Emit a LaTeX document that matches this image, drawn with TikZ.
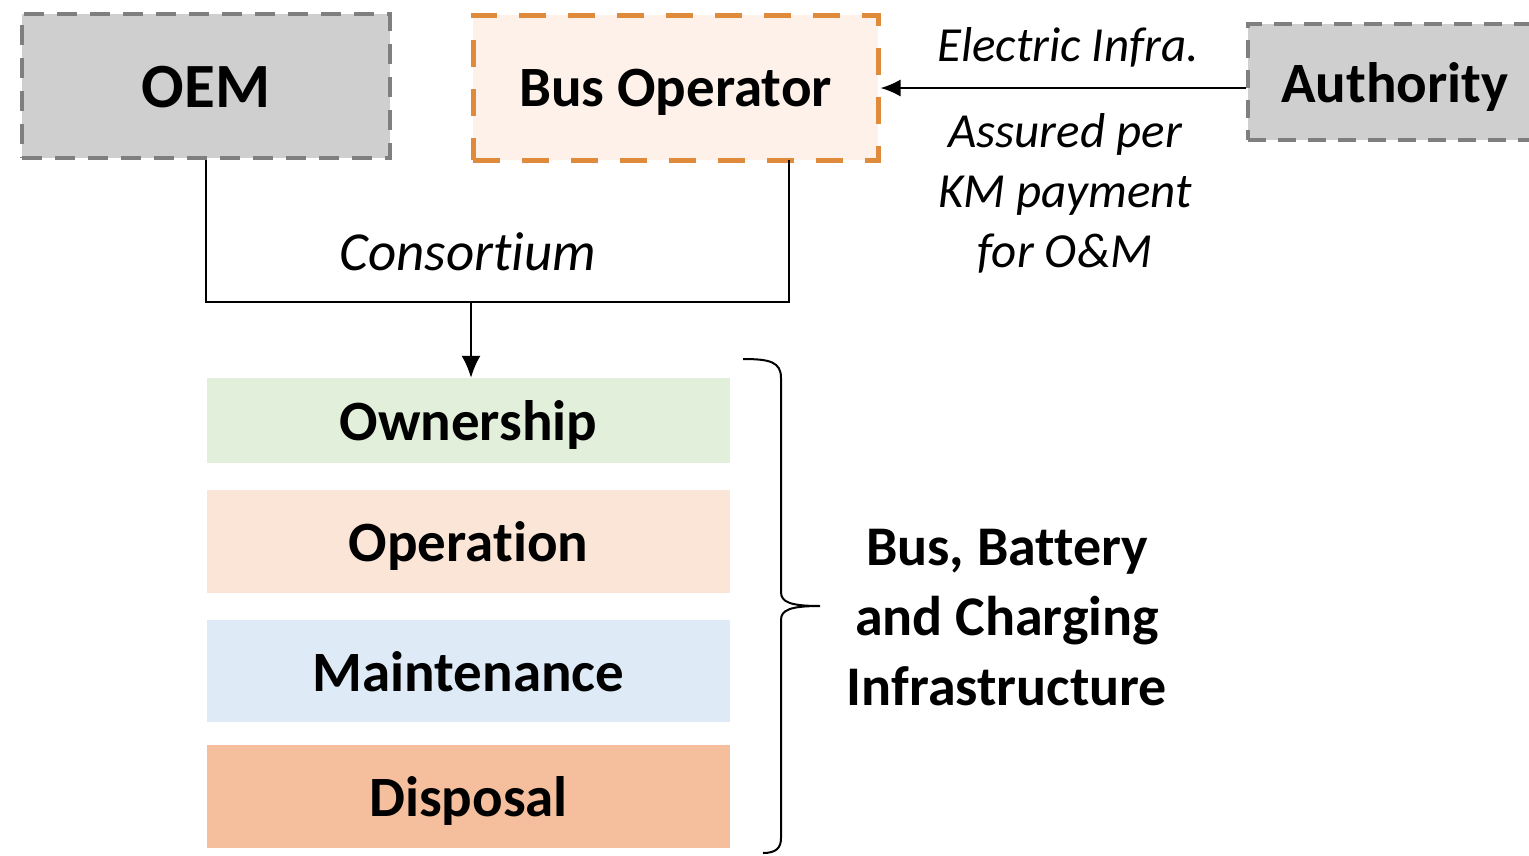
\documentclass[tikz,border=0pt]{standalone}
\usepackage{fontspec}
\setmainfont{Carlito}[Ligatures={NoCommon,NoDiscretionary}]
\usetikzlibrary{arrows.meta,calc}
\definecolor{boxgray}{HTML}{D0CFD0}
\definecolor{dashgray}{HTML}{7F7F7F}
\definecolor{busfill}{HTML}{FDF1E9}
\definecolor{busline}{HTML}{E08A3C}
\definecolor{ownfill}{HTML}{E2EFDA}
\definecolor{opfill}{HTML}{FBE5D6}
\definecolor{mainfill}{HTML}{DEEBF7}
\definecolor{dispfill}{HTML}{F5BE9C}
\tikzset{
  actor/.style={draw=dashgray, fill=boxgray, line width=4pt, dash pattern=on 20pt off 13pt, inner sep=0pt, text depth=0pt, font=\bfseries},
  stage/.style={fill=#1, draw=none, minimum width=523pt, inner sep=0pt, text depth=0pt, font=\fontsize{57}{62}\selectfont\bfseries},
  lab/.style={font=\fontsize{49}{60}\selectfont\itshape, align=center, inner sep=0pt},
  conn/.style={line width=2pt, black},
}
\begin{document}
\begin{tikzpicture}[x=1pt,y=-1pt]
\useasboundingbox (0,0) rectangle (1529,855);
\fill[white] (0,0) rectangle (1529,855);
% actors
\node[actor, minimum width=368pt, minimum height=144pt, font=\fontsize{63}{72}\selectfont\bfseries] (oem) at (206,86) {\raisebox{-2pt}{OEM}};
\node[actor, draw=busline, fill=busfill, line width=5pt, dash pattern=on 27pt off 22pt, minimum width=405pt, minimum height=145pt, font=\fontsize{57}{66}\selectfont\bfseries] (bus) at (675.5,87.5) {Bus Operator};
\node[actor, dash pattern=on 18pt off 12pt, line width=3.5pt, minimum width=294pt, minimum height=116pt, font=\fontsize{57}{66}\selectfont\bfseries] (auth) at (1395,82) {Authority};
% arrow authority -> bus
\draw[conn, -{Latex[length=20pt,width=17pt]}] (auth.west |- 0,88) coordinate (aw) -- (bus.east |- aw);
\node[lab] (einfra) at (1068,47) {Electric Infra.};
\node[lab] (assured) at (1065,193) {Assured per\\KM payment\\for O\&M};
% consortium connector
\coordinate (busdrop) at (789,160);
\coordinate (join) at (471,302);
\draw[conn] (oem.south) |- (busdrop |- join) -- (busdrop);
\node[lab, font=\fontsize{55}{60}\selectfont\itshape] (cons) at (468,252) {Consortium};
% stages
\node[stage=ownfill, minimum height=85pt] (own) at (468.5,420.5) {Ownership};
\node[stage=opfill, minimum height=103pt] (op) at (468.5,541.5) {Operation};
\node[stage=mainfill, minimum height=102pt] (maint) at (468.5,671) {Maintenance};
\node[stage=dispfill, minimum height=103pt] (disp) at (468.5,796.5) {Disposal};
\draw[conn, -{Latex[length=22pt,width=19pt]}] (join) -- (own.north -| join);
% brace
\coordinate (btop) at (743,359);
\coordinate (btip) at (820,606);
\coordinate (bbot) at (763,853);
\draw[line width=2pt] (btop) .. controls (770,359) and (781,362) .. (781,378)
  -- (781,592) .. controls (781,602) and (790,606) .. (btip)
  (btip) .. controls (790,606) and (781,610) .. (781,620)
  -- (781,838) .. controls (781,848) and (776,853) .. (bbot);
\node[font=\fontsize{56}{70}\selectfont\bfseries, align=center, inner sep=0pt] (infra) at (1007,618) {Bus, Battery\\and Charging\\Infrastructure};
\end{tikzpicture}
\end{document}
